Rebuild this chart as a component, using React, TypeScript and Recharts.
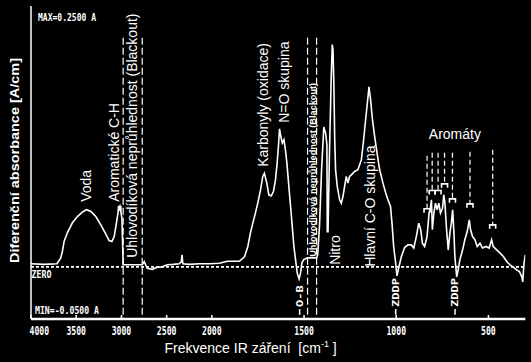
import React from 'react';
import { LineChart, Line, XAxis, YAxis, ReferenceLine, ReferenceDot } from 'recharts';

// ---- spectrum (wavenumber cm-1, absorbance A) ----
const wavenumbers = [
  4000, 3856, 3712, 3671, 3653, 3634, 3598, 3542, 3487, 3432, 3387, 3339, 3283, 3228, 3180, 3136, 3106, 3080, 3055, 3033,
  3017, 3006, 2995, 2981, 2770, 2748, 2715, 2659, 2604, 2549, 2493, 2426, 2360, 2338, 2330, 2321, 2249, 2138, 2028,
  1959, 1916, 1851, 1823, 1805, 1791, 1778, 1764, 1751, 1736, 1724, 1715, 1702, 1691, 1678, 1666, 1655, 1646, 1639,
  1633, 1626, 1618, 1609, 1601, 1593, 1584, 1573, 1564, 1555, 1546, 1537, 1527, 1519, 1512, 1503, 1492, 1481, 1432,
  1426, 1416, 1405, 1393, 1383, 1376, 1374, 1370, 1362, 1353, 1347, 1343, 1338, 1334, 1329, 1320, 1307, 1298, 1289,
  1280, 1271, 1262, 1253, 1243, 1226, 1208, 1189, 1177, 1166, 1153, 1148, 1139, 1129, 1117, 1104, 1090, 1072, 1057,
  1045, 1031, 1023, 1014, 1003, 996, 985, 972, 954, 936, 918, 905, 891, 878, 867, 858, 846, 833, 822, 815, 809, 804,
  796, 787, 778, 769, 760, 749, 742, 736, 727, 718, 709, 700, 694, 687, 682, 672, 664, 655, 640, 628, 615, 604, 597,
  586, 573, 561, 546, 532, 514, 496, 483, 474, 455, 437, 419, 401, 383, 365, 347, 332, 319, 314, 307, 300,
];
const absorbance = [
  0.003, 0.0024, 0.003, 0.0086, 0.0147, 0.0243, 0.0326, 0.0422, 0.0482, 0.0524, 0.0547, 0.053, 0.0482, 0.0403, 0.0326, 0.0252, 0.0243, 0.029, 0.0422, 0.0547,
  0.058, 0.0527, 0.047, 0.002, 0.002, 0.005, -0.0014, -0.0024, -0.0005, 0, 0.002, 0.0024, 0.003, 0.005, 0.0115, 0.003, 0.0024, 0.003, 0.003,
  0.0034, 0.0053, 0.0053, 0.0096, 0.0195, 0.0323, 0.0419, 0.0515, 0.0611, 0.0738, 0.0866, 0.0896, 0.0802, 0.069, 0.068, 0.0722, 0.0834, 0.0994, 0.1153,
  0.1323, 0.1249, 0.1186, 0.1218, 0.1122, 0.0994, 0.0802, 0.0578, 0.0386, 0.0195, 0.0067, -0.006, -0.0115, -0.006, 0.0035, 0.0067, 0.0077, 0.0086, 0.0086,
  0.0115, 0.04, 0.093, 0.134, 0.128, 0.117, 0.0336, 0.0336, 0.11, 0.179, 0.213, 0.208, 0.1726, 0.1246, 0.093, 0.077, 0.0642, 0.061, 0.0674,
  0.077, 0.0866, 0.0802, 0.0866, 0.0882, 0.0914, 0.093, 0.1026, 0.1218, 0.141, 0.1633, 0.1726, 0.16, 0.141, 0.1249, 0.109, 0.093, 0.0802, 0.0707,
  0.0642, 0.0578, 0.0419, 0.0195, 0.0035, -0.0086, 0.0003, 0.0099, 0.0187, 0.021, 0.021, 0.018, 0.029, 0.0419, 0.0355, 0.0227, 0.0195, 0.029, 0.0515, 0.0563, 0.0642, 0.0355,
  0.0515, 0.0611, 0.0547, 0.0611, 0.0515, 0.0563, 0.069, 0.0611, 0.0355, 0.0163, 0.0323, 0.0434, 0.0547, 0.0323, 0.0099, -0.0096, -0.0029, 0.0067, 0.0163, 0.0259, 0.0338, 0.045, 0.0355,
  0.029, 0.0259, 0.0195, 0.0227, 0.018, 0.0195, 0.018, 0.0259, 0.0195, 0.0163, 0.0131, 0.0099, 0.0051, 0.0019, -0.0003, -0.0029, -0.0045, -0.0096, -0.0144, 0.0035, 0.0115,
];

// ---- axes ----
const xTickValues = [4000, 3500, 3000, 2500, 2000, 1500, 1000, 500];
const xTickLabels = ['4000', '3500', '3000', '2500', '2000', '1500', '1000', '500'];
const yTickValues = [-0.05, -0.02, 0.01, 0.04, 0.07, 0.1, 0.13, 0.16, 0.19, 0.22, 0.25];
const wnStart = 4000;
const wnBreak = 2000;
const wnEnd = 300;

// ---- annotations ----
const blackoutLines = [2981, 2770, 1481, 1432];
const blackoutTop = 0.2196;
const aromaWn = [833, 805, 773, 738, 695, 600, 477];
const aromaTop = [0.1064, 0.1093, 0.1093, 0.1093, 0.1093, 0.1103, 0.1122];
const aromaCap = [0.0547, 0.0722, 0.0722, 0.0786, 0.0642, 0.0594, 0.0393];
const bandTexts = ['Voda', 'Aromatické C-H', 'Uhlovodíková neprůhlednost (Blackout)', 'Karbonyly (oxidace)', 'N=O skupina', 'Nitro', 'Hlavní C-O skupina'];
const bandWn = [3396, 3080, 2886, 1720, 1609, 1334, 1141];
const bandA = [0.0623, 0.0623, 0.0086, 0.0959, 0.138, 0.0019, 0];
const smallBlackoutText = 'Uhlovodíková neprůhlednost (Blackout)';
const smallBlackoutWn = 1454;
const smallBlackoutA = 0.0096;
const aromaTitle = 'Aromáty';
const aromaTitleWn = 682;
const aromaTitleA = 0.1227;
const lowerTexts = ['O-B', 'ZDDP', 'ZDDP'];
const lowerWn = [1524, 1003, 681];
const lowerA = -0.0384;
const peakMarkWn = 3020;
const peakMarkA = 0.0565;

// piecewise axis scale (spectrometer abscissa changes scale at 2000 cm-1)
const HI = 0.09025;
const LO = 0.184;
const toPos = (wn: number) => (wn >= wnBreak ? (wnStart - wn) * HI : (wnStart - wnBreak) * HI + (wnBreak - wn) * LO);

const data = wavenumbers.map((wn, i) => ({ pos: toPos(wn), a: absorbance[i] }));

const SANS = 'Liberation Sans, Arial, sans-serif';
const MONO = 'DejaVu Sans Mono, monospace';
const W = '#ffffff';

const XTick = (props: any) => {
  const { x, y, index } = props;
  return (
    <text
      x={index === 0 ? x - 1.5 : x}
      y={y}
      dy={7.5}
      textAnchor={index === 0 ? 'start' : 'middle'}
      fill={W}
      fontFamily={MONO}
      fontWeight="bold"
      fontSize={11.5}
      textLength={xTickLabels[index].length * 4.9}
      lengthAdjust="spacingAndGlyphs"
    >
      {xTickLabels[index]}
    </text>
  );
};

const rotatedText = (text: string, size: number, font: string, weight: string, len?: number) => (props: any) => {
  const { cx, cy } = props;
  return (
    <text
      x={cx}
      y={cy}
      transform={`rotate(-90 ${cx} ${cy})`}
      textAnchor="start"
      dominantBaseline="central"
      fill={W}
      fontFamily={font}
      fontWeight={weight}
      fontSize={size}
      {...(len ? { textLength: len, lengthAdjust: 'spacingAndGlyphs' } : {})}
    >
      {text}
    </text>
  );
};

const capShape = (props: any) => {
  const { cx, cy } = props;
  return (
    <path d={`M${cx - 3},${cy + 3} V${cy - 1} H${cx + 3} V${cy + 3}`} stroke={W} strokeWidth={1.6} fill="none" />
  );
};

const squareShape = (props: any) => {
  const { cx, cy } = props;
  return <rect x={cx - 2} y={cy - 2} width={4} height={5} fill={W} />;
};

const monoLabel = (text: string, dx: number, dy: number, len: number) => (props: any) => {
  const vb = props.viewBox || { x: 0, y: 0 };
  return (
    <text
      x={vb.x + dx}
      y={vb.y + dy}
      fill={W}
      fontFamily={MONO}
      fontWeight="bold"
      fontSize={10.5}
      textLength={len}
      lengthAdjust="spacingAndGlyphs"
    >
      {text}
    </text>
  );
};

const yTitle = (props: any) => {
  const vb = props.viewBox || { x: 31, y: 6, width: 1, height: 313 };
  const cx = vb.x - 16.5;
  const cy = vb.y + vb.height / 2 - 2;
  return (
    <text
      x={cx}
      y={cy}
      transform={`rotate(-90 ${cx} ${cy})`}
      textAnchor="middle"
      dominantBaseline="central"
      fill={W}
      fontFamily={SANS}
      fontWeight="bold"
      fontSize={12.5}
      textLength={205}
      lengthAdjust="spacingAndGlyphs"
    >
      Diferenční absorbance [A/cm]
    </text>
  );
};

const xTitle = (props: any) => {
  const vb = props.viewBox || { x: 32, y: 319, width: 493, height: 30 };
  return (
    <text x={vb.x + 133.5} y={vb.y + 34} fill={W} fontFamily={SANS} fontSize={14} style={{ whiteSpace: 'pre' }}>
      {'Frekvence IR záření  [cm'}
      <tspan dy={-6} fontSize={9}>
        -1
      </tspan>
      <tspan dy={6}>{' ]'}</tspan>
    </text>
  );
};

export default function App() {
  const xMax = toPos(wnEnd);
  return (
    <div style={{ position: 'absolute', left: 0, top: 0, width: 531, height: 362, background: '#000', overflow: 'hidden' }}>
      <LineChart width={531} height={362} data={data} margin={{ top: 6, right: 531 - 32 - xMax, left: 31, bottom: 13 }}>
        <XAxis
          type="number"
          dataKey="pos"
          domain={[0, xMax]}
          ticks={xTickValues.map(toPos)}
          interval={0}
          height={30}
          tickLine={false}
          axisLine={{ stroke: W, strokeWidth: 2.5 }}
          tick={<XTick />}
          label={xTitle}
          allowDataOverflow
        />
        <YAxis
          type="number"
          domain={[-0.05, 0.25]}
          ticks={yTickValues}
          interval={0}
          width={1}
          mirror
          tickSize={4}
          tick={false}
          tickLine={{ stroke: W, strokeWidth: 1.5 }}
          axisLine={{ stroke: W, strokeWidth: 1.5 }}
          label={yTitle}
          allowDataOverflow
        />
        <ReferenceLine y={0.25} stroke="none" label={monoLabel('MAX=0.2500 A', 7, 15, 58)} />
        <ReferenceLine y={-0.05} stroke="none" label={monoLabel('MIN=-0.0500 A', 4, -5, 64)} />
        <ReferenceLine y={0} stroke={W} strokeWidth={1.8} strokeDasharray="3 2" label={monoLabel('ZERO', 0.5, 11, 20)} />
        {xTickValues.map((wn) => (
          <ReferenceLine
            key={`xt${wn}`}
            segment={[{ x: toPos(wn), y: -0.05 }, { x: toPos(wn), y: -0.0462 }]}
            stroke={W}
            strokeWidth={1.5}
          />
        ))}
        {blackoutLines.map((wn) => (
          <ReferenceLine
            key={`bl${wn}`}
            segment={[{ x: toPos(wn), y: blackoutTop }, { x: toPos(wn), y: -0.05 }]}
            stroke={W}
            strokeWidth={1.2}
            strokeDasharray="7 3"
          />
        ))}
        {aromaWn.map((wn, i) => (
          <ReferenceLine
            key={`ar${wn}`}
            segment={[{ x: toPos(wn), y: aromaTop[i] }, { x: toPos(wn), y: aromaCap[i] }]}
            stroke={W}
            strokeWidth={1.2}
            strokeDasharray="5 3"
          />
        ))}
        {aromaWn.map((wn, i) => (
          <ReferenceDot key={`cap${wn}`} x={toPos(wn)} y={aromaCap[i]} r={3} shape={capShape} />
        ))}
        {lowerWn.map((wn, i) => (
          <ReferenceLine
            key={`lw${i}`}
            segment={[{ x: toPos(wn), y: -0.0405 }, { x: toPos(wn), y: -0.046 }]}
            stroke={W}
            strokeWidth={1.5}
          />
        ))}
        {lowerWn.map((wn, i) => (
          <ReferenceDot
            key={`lt${i}`}
            x={toPos(wn)}
            y={lowerA}
            r={1}
            shape={rotatedText(lowerTexts[i], 9, MONO, 'bold', lowerTexts[i].length * 7.2)}
          />
        ))}
        <ReferenceDot x={toPos(peakMarkWn)} y={peakMarkA} r={2} shape={squareShape} />
        <Line dataKey="a" type="linear" stroke={W} strokeWidth={1.6} dot={false} isAnimationActive={false} />
        {bandTexts.map((t, i) => (
          <ReferenceDot key={`bt${i}`} x={toPos(bandWn[i])} y={bandA[i]} r={1} shape={rotatedText(t, 14, SANS, 'normal')} />
        ))}
        <ReferenceDot
          x={toPos(smallBlackoutWn)}
          y={smallBlackoutA}
          r={1}
          shape={rotatedText(smallBlackoutText, 9, SANS, 'bold', 174)}
        />
        <ReferenceDot
          x={toPos(aromaTitleWn)}
          y={aromaTitleA}
          r={1}
          shape={(p: any) => (
            <text x={p.cx} y={p.cy} textAnchor="middle" fill={W} fontFamily={SANS} fontSize={14}>
              {aromaTitle}
            </text>
          )}
        />
      </LineChart>
    </div>
  );
}
